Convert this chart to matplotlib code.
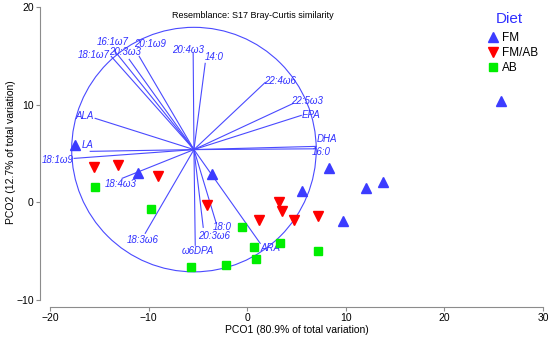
import matplotlib
matplotlib.use('Agg')
import matplotlib.pyplot as plt
from matplotlib.patches import Ellipse
from matplotlib.lines import Line2D

plt.rcParams['font.family'] = ['Liberation Sans', 'DejaVu Sans']

# ---- data ----
fm_x = [-17.5, -11.1, -3.6, 5.6, 8.3, 12.0, 13.8, 9.7, 25.7]
fm_y = [5.9, 3.0, 2.9, 1.2, 3.5, 1.5, 2.1, -1.9, 10.4]
fmab_x = [-15.5, -13.1, -9.0, -4.1, 3.2, 3.5, 1.2, 4.7, 7.2]
fmab_y = [3.6, 3.8, 2.7, -0.3, 0.0, -0.9, -1.8, -1.8, -1.4]
ab_x = [-15.4, -9.8, -0.5, 0.7, 0.9, 3.3, -5.7, -2.1, 7.2]
ab_y = [1.6, -0.7, -2.5, -4.6, -5.8, -4.2, -6.6, -6.4, -5.0]

vec_origin = (-5.4, 5.4)
vec_names = ['16:1ω7', '18:1ω7', '20:3ω3', '20:1ω9', '20:4ω3', '14:0',
             '22:4ω6', '22:5ω3', 'EPA', 'DHA', '16:0', 'ALA', 'LA', '18:1ω9',
             '18:4ω3', '18:3ω6', 'ω6DPA', '20:3ω6', '18:0', 'ARA']
vec_x = [-13.49, -13.79, -11.97, -10.95, -5.48, -4.26, 1.83, 4.67, 5.48, 7.0,
         7.0, -15.42, -15.92, -17.55, -12.68, -10.34, -5.27, -4.46, -3.14, 1.32]
vec_y = [15.56, 14.94, 14.64, 14.94, 15.25, 14.23, 12.28, 10.13, 8.90, 5.73,
         5.48, 8.60, 5.22, 4.50, 2.46, -3.17, -4.40, -2.56, -2.15, -4.20]
circle_radius = 12.4

xticks = [-20, -10, 0, 10, 20, 30]
yticks = [-10, 0, 10, 20]

legend_labels = ['FM', 'FM/AB', 'AB']

# label offsets (pixels) and alignment
lab_off = [(-2, 8), (-18, 1), (-4, 7), (11, 12), (-5, 3), (9, 6),
           (15, 1), (14, 2), (10, 0), (11, 7), (5, -3), (-10, 2), (-3, 6), (-1, -2),
           (-1, -6), (-3, -7), (3, -6), (11, -9), (6, -4), (10, -5)]
lab_ha = ['center'] * 13 + ['right'] + ['center'] * 6

blue = '#4a4aff'
lab_blue = '#3030ff'
gray = '#8c8c8c'

fig = plt.figure(figsize=(5.5, 3.41), dpi=100)
ax = fig.add_axes([50 / 550, 41 / 341, 493 / 550, 293 / 341])
ax.set_xlim(-20, 30)
ax.set_ylim(-10, 20)

# circle (round in pixels)
ppu_x = ax.bbox.width / 50.0
ppu_y = ax.bbox.height / 30.0
circ = Ellipse(vec_origin, 2 * circle_radius, 2 * circle_radius * ppu_x / ppu_y,
               fill=False, edgecolor=blue, lw=0.8, zorder=2)
ax.add_patch(circ)

for name, tx, ty, off, ha in zip(vec_names, vec_x, vec_y, lab_off, lab_ha):
    ax.plot([vec_origin[0], tx], [vec_origin[1], ty], color=blue, lw=0.8, zorder=2)
    ax.annotate(name, (tx, ty), xytext=off, textcoords='offset pixels',
                ha=ha, va='center', style='italic', color=lab_blue, fontsize=7,
                zorder=3)

ax.plot(fm_x, fm_y, linestyle='none', marker='^', ms=7, color='#3c3cff', mec='#3c3cff', zorder=4)
ax.plot(fmab_x, fmab_y, linestyle='none', marker='v', ms=7, color='#ff0000', mec='#ff0000', zorder=4)
ax.plot(ab_x, ab_y, linestyle='none', marker='s', ms=6, color='#00ee00', mec='#00ee00', zorder=4)

ax.text(0.5 - (296.5 - 253) / 493, 1 - (16 - 7) / 293, 'Resemblance: S17 Bray-Curtis similarity',
        transform=ax.transAxes, ha='center', va='center', fontsize=6.5, color='black')

handles = [Line2D([], [], linestyle='none', marker='^', ms=7, color='#3c3cff'),
           Line2D([], [], linestyle='none', marker='v', ms=7, color='#ff0000'),
           Line2D([], [], linestyle='none', marker='s', ms=6, color='#00ee00')]
leg = ax.legend(handles, legend_labels, frameon=False,
                loc='upper left', bbox_to_anchor=(478 / 550, 1 - 24 / 341),
                bbox_transform=fig.transFigure, fontsize=8.5,
                handletextpad=0.1, labelspacing=0.25, handlelength=1.2,
                borderpad=0.2)
fig.text(509 / 550, 1 - 19 / 341, 'Diet', ha='center', va='center',
         fontsize=11, color='#3030ff')

for s in ['top', 'right']:
    ax.spines[s].set_visible(False)
ax.spines['left'].set_position(('outward', 7.2))
ax.spines['bottom'].set_position(('outward', 5))
for s in ['left', 'bottom']:
    ax.spines[s].set_color(gray)
    ax.spines[s].set_linewidth(0.8)
ax.set_xticks(xticks)
ax.set_yticks(yticks)
ax.tick_params(axis='both', colors=gray, labelcolor='black', labelsize=7.5,
               length=3, width=0.8, pad=1.5)
ax.set_xlabel('PCO1 (80.9% of total variation)', fontsize=7.5, labelpad=1)
ax.set_ylabel('PCO2 (12.7% of total variation)', fontsize=7.5)
ax.yaxis.set_label_coords((16 - 50) / 493, 0.505)

fig.savefig('out.png', dpi=100)
